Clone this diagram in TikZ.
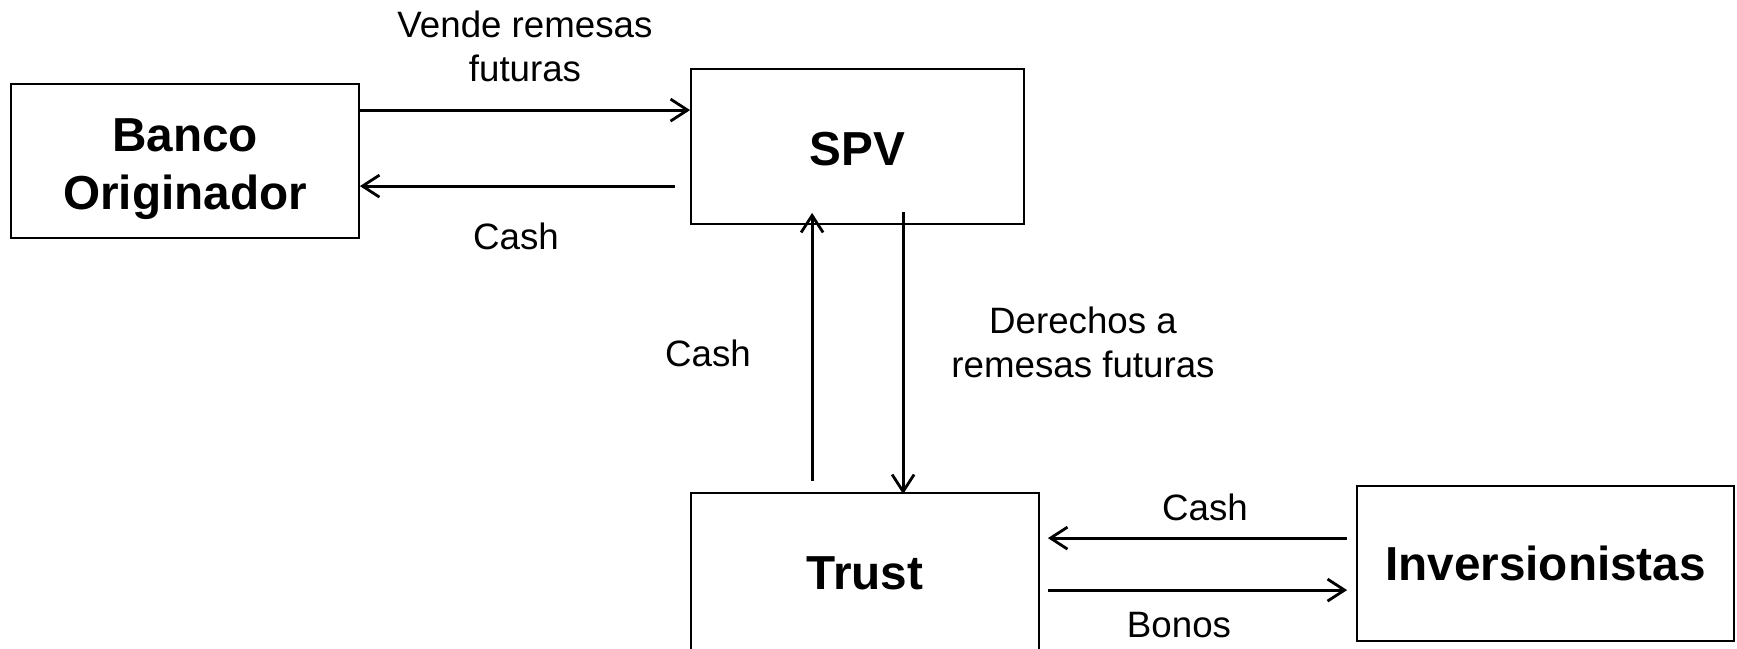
\documentclass[tikz,border=0pt]{standalone}
\usepackage{fontspec}
\setmainfont{Liberation Sans}
\usetikzlibrary{arrows.meta,calc}
\begin{document}
\begin{tikzpicture}[x=1pt,y=-1pt,
  entity/.style={draw=black,line width=1.8pt,rectangle,inner sep=0pt,align=center,
    font=\fontsize{47.7}{58}\selectfont\bfseries},
  entitytext/.style={inner sep=0pt,align=center,font=\fontsize{47.7}{58}\selectfont\bfseries},
  flow/.style={line width=2.8pt,-{Straight Barb[length=17pt,width=22pt,line width=2.8pt]}},
  tag/.style={align=center,inner sep=0pt,font=\fontsize{36.7}{44}\selectfont}]
\useasboundingbox (0,0) rectangle (1737,648);
\fill[white] (0,0) rectangle (1737,648);

% parties
\node[entity,minimum width=348pt,minimum height=154pt,
  label={[entitytext,yshift=-8pt]center:Banco\\Originador}] (banco) at (185,161) {};
\node[entity,minimum width=333pt,minimum height=155pt,
  label={[entitytext,yshift=-3pt]center:SPV}] (spv) at (857.5,146.5) {};
\node[entity,minimum width=348pt,minimum height=160pt] (trust) at (865,573) {Trust};
\node[entity,minimum width=377pt,minimum height=155pt] (inv) at (1545.5,563.5) {Inversionistas};

% Banco <-> SPV
\draw[flow] ($(banco.north east)+(0,27)$) -- ($(spv.west |- banco.north east)+(0,27)$);
\draw[flow] ($(spv.west |- banco.north east)+(-15,103)$) -- ($(banco.north east)+(0,103)$);

% SPV <-> Trust
\draw[flow] ($(trust.north west)+(122,-11)$) -- ($(spv.south west)+(122,-12)$);
\draw[flow] ($(spv.south west)+(213,-13)$) -- ($(trust.north west)+(213,2)$);

% Trust <-> Inversionistas
\draw[flow] ($(inv.north west)+(-9,53)$) -- ($(trust.east |- inv.north west)+(8,53)$);
\draw[flow] ($(trust.east |- inv.north west)+(8,105)$) -- ($(inv.north west)+(-9,105)$);

% flow labels
\node[tag] (l1) at (525,46) {Vende remesas\\futuras};
\node[tag] (l2) at (516,236) {Cash};
\node[tag] (l3) at (708,353) {Cash};
\node[tag] (l4) at (1083,342) {Derechos a\\remesas futuras};
\node[tag] (l5) at (1205,507) {Cash};
\node[tag] (l6) at (1179,625) {Bonos};
\end{tikzpicture}
\end{document}
